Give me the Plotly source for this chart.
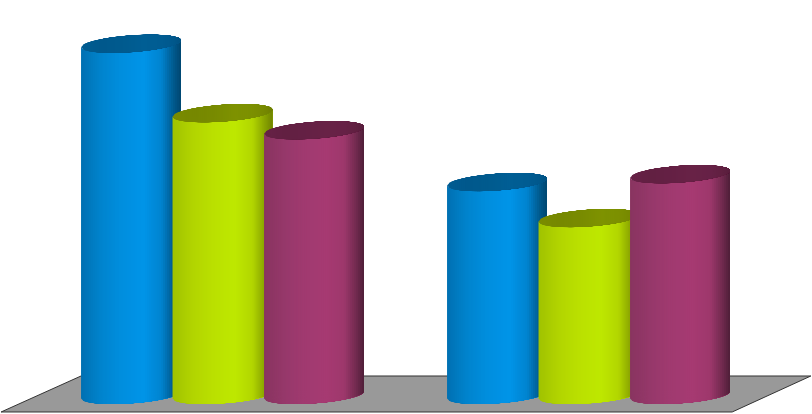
import numpy as np
import plotly.graph_objects as go

# no labels in the picture, values are on a made up 0-9 scale
group_slots = [0, 4]
blue_values = [8.0, 4.85]
green_values = [6.42, 4.03]
purple_values = [6.03, 5.03]

# cylinder shape in axis units
half_width = 0.546
tilt = 0.08
squash = 0.19
n_strips = 50

# shading across the cylinder, left edge to right edge
shade_pos = [-1.0, -0.6, -0.2, 0.25, 0.6, 0.85, 1.0]
series = [
    (blue_values, 0,
     [(0, 112, 178), (0, 132, 205), (0, 142, 222), (0, 148, 232), (0, 132, 208), (0, 90, 142), (0, 70, 112)],
     [(0, 92, 145), (0, 88, 140), (0, 90, 142), (0, 94, 148), (0, 92, 146), (0, 88, 140), (0, 82, 130)]),
    (green_values, 1,
     [(160, 194, 0), (178, 212, 0), (186, 224, 0), (190, 232, 0), (178, 214, 0), (136, 162, 0), (112, 132, 0)],
     [(122, 140, 0), (118, 136, 0), (120, 138, 0), (126, 146, 0), (124, 144, 0), (118, 136, 0), (110, 126, 0)]),
    (purple_values, 2,
     [(136, 52, 96), (150, 56, 106), (160, 58, 112), (166, 58, 114), (158, 56, 108), (112, 42, 78), (78, 30, 56)],
     [(102, 33, 70), (98, 32, 66), (100, 32, 68), (104, 34, 70), (102, 33, 70), (96, 32, 64), (88, 30, 60)]),
]

# grey floor corners, back left / back right / front right / front left
floor_x = [-0.546, 7.43, 6.57, -1.42, -0.546]
floor_y = [0.433, 0.433, -0.387, -0.387, 0.433]


def shade(colors, u):
    r, g, b = [np.interp(u, shade_pos, [c[i] for c in colors]) for i in range(3)]
    return f"rgb({r:.0f},{g:.0f},{b:.0f})"


def lower(u, base):
    return base + tilt * u - squash * np.sqrt(np.clip(1 - u * u, 0, 1))


def upper(u, base):
    return base + tilt * u + squash * np.sqrt(np.clip(1 - u * u, 0, 1))


def strip(fig, xc, u1, bottom, top, color):
    # painted left to right, each slice runs to the right edge so no seams show
    us = np.linspace(u1, 1, 40)
    xs = xc + half_width * us
    x = list(xs) + list(xs[::-1])
    y = list(bottom(us)) + list(top(us[::-1]))
    fig.add_trace(go.Scatter(x=x, y=y, mode="lines", fill="toself", fillcolor=color,
                             line=dict(width=0), hoverinfo="skip", showlegend=False))


fig = go.Figure()

fig.add_trace(go.Scatter(x=floor_x, y=floor_y, mode="lines", fill="toself", fillcolor="#999999",
                         line=dict(color="#333333", width=1), hoverinfo="skip", showlegend=False))

edges = np.linspace(-1, 1, n_strips + 1)
for g, slot in enumerate(group_slots):
    for values, offset, body, lid in series:
        xc = slot + offset
        v = values[g]
        for u1, u2 in zip(edges[:-1], edges[1:]):
            um = (u1 + u2) / 2
            strip(fig, xc, u1, lambda u: lower(u, 0.0), lambda u: lower(u, v), shade(body, um))
        for u1, u2 in zip(edges[:-1], edges[1:]):
            um = (u1 + u2) / 2
            strip(fig, xc, u1, lambda u: lower(u, v), lambda u: upper(u, v), shade(lid, um))

fig.update_layout(
    width=812,
    height=414,
    margin=dict(l=0, r=0, t=0, b=0),
    paper_bgcolor="white",
    plot_bgcolor="white",
    showlegend=False,
    xaxis=dict(range=[-131 / 91.5, 681 / 91.5], visible=False, fixedrange=True),
    yaxis=dict(range=[-19 / 43.9, 395 / 43.9], visible=False, fixedrange=True),
)

fig.write_html("out.html", config={"displayModeBar": False},
               post_script="document.body.style.margin='0';")
